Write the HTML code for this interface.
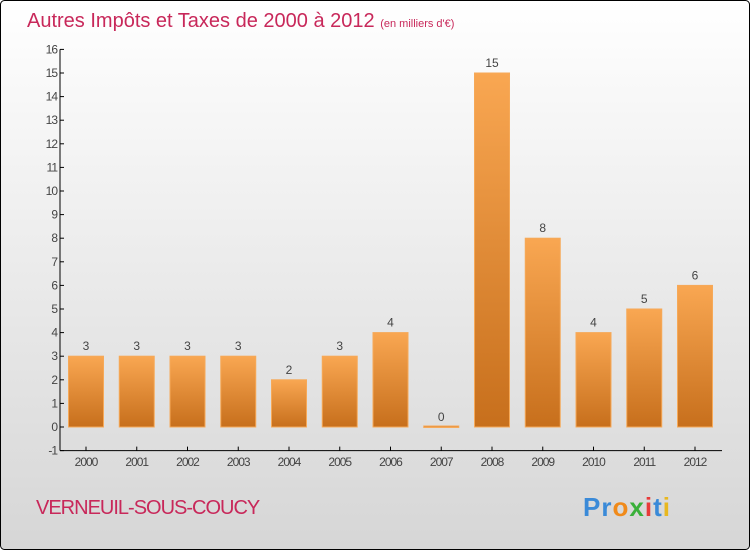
<!DOCTYPE html>
<html><head><meta charset="utf-8"><style>
body{margin:0;width:750px;height:550px;overflow:hidden;font-family:"Liberation Sans",sans-serif}
</style></head><body>
<svg id="chart" width="750" height="550" xmlns="http://www.w3.org/2000/svg">
<defs>
<linearGradient id="bg" x1="0" y1="0" x2="0" y2="1"><stop offset="0" stop-color="#ffffff"/><stop offset="1" stop-color="#d6d6d6"/></linearGradient>
<linearGradient id="bar" x1="0" y1="0" x2="0" y2="1"><stop offset="0" stop-color="#f9a752"/><stop offset="1" stop-color="#c76f1c"/></linearGradient>
</defs>
<rect x="0.5" y="0.5" width="749" height="549" rx="4" fill="url(#bg)" stroke="#000"/>
<text x="27" y="27" font-size="20" fill="#c8285a">Autres Impôts et Taxes de 2000 à 2012 <tspan font-size="11">(en milliers d'€)</tspan></text>
<g id="axes"></g>
<g id="bars"></g>
<text x="36" y="514" font-size="20" fill="#c8285a" letter-spacing="-1">VERNEUIL-SOUS-COUCY</text>
<text x="583" y="516" font-size="26" font-weight="bold" letter-spacing="1"><tspan fill="#3a8ad8">Pr</tspan><tspan fill="#f08a1a">o</tspan><tspan fill="#3ab03a">x</tspan><tspan fill="#e83a3a">i</tspan><tspan fill="#3a8ad8">t</tspan><tspan fill="#e8b820">i</tspan></text>
</svg>
<script>
const years=["2000","2001","2002","2003","2004","2005","2006","2007","2008","2009","2010","2011","2012"];
const values=[3,3,3,3,2,3,4,0,15,8,4,5,6];
const yTicks=[-1,0,1,2,3,4,5,6,7,8,9,10,11,12,13,14,15,16];
const NS="http://www.w3.org/2000/svg";
const y0=427,unit=23.6;
function yScale(v){return y0-v*unit;}
function xScale(i){return 86+i*50.75;}
function mk(t,a,p){const e=document.createElementNS(NS,t);for(const k in a)e.setAttribute(k,a[k]);p.appendChild(e);return e;}
const ax=document.getElementById('axes'),bg=document.getElementById('bars');
const yl=mk('line',{x1:60,y1:yScale(16),x2:60,y2:yScale(-1),stroke:'#000'},ax);


const xl=mk('line',{x1:60,y1:yScale(-1),x2:722,y2:yScale(-1),stroke:'#000'},ax);


yTicks.forEach(v=>{
 const y=yScale(v);
 mk('line',{x1:60,y1:y,x2:64,y2:y,stroke:'#000'},ax);
 const t=mk('text',{x:57,y:y+4,'font-size':12,fill:'#444','text-anchor':'end','letter-spacing':'-1'},ax);
 t.textContent=v;
 
 
});
years.forEach((yr,i)=>{
 const x=xScale(i);
 mk('line',{x1:x,y1:yScale(-1),x2:x,y2:yScale(-1)-4,stroke:'#000'},ax);
 const t=mk('text',{x:x,y:466,'font-size':12,fill:'#444','text-anchor':'middle','letter-spacing':'-1'},ax);
 t.textContent=yr;
 
 
 const v=values[i],top=yScale(v),h=Math.max(y0-top,1.5);
 const r=mk('rect',{x:x-17.5,y:Math.min(top,y0-1),width:35,height:h,fill:'url(#bar)',stroke:'#f6a958','stroke-width':1},bg);
 
 
 const l=mk('text',{x:x,y:top-6,'font-size':12,fill:'#444','text-anchor':'middle'},bg);
 l.textContent=v;
 
 
});
</script>
</body></html>
